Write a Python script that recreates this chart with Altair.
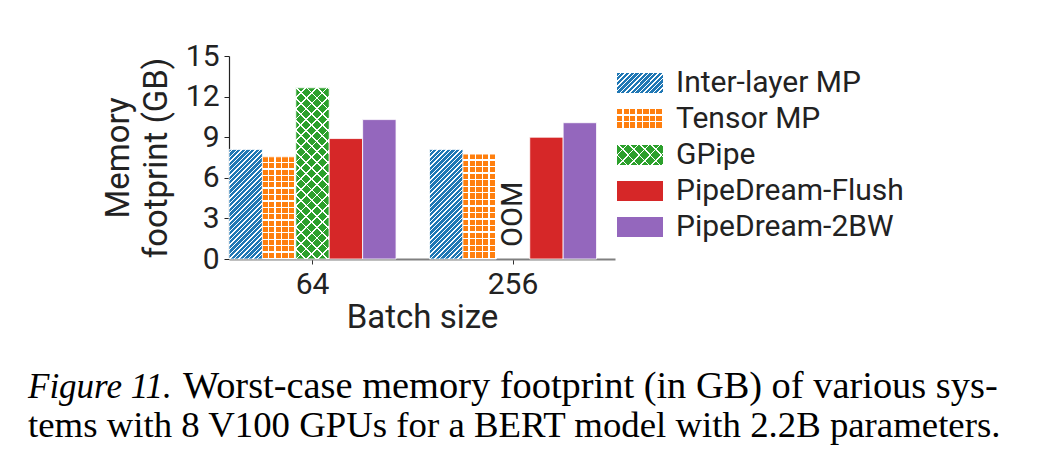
import math
import altair as alt
import pandas as pd

# ---------------- data ----------------
batch_sizes = ["64", "256"]
systems = ["Inter-layer MP", "Tensor MP", "GPipe", "PipeDream-Flush", "PipeDream-2BW"]
inter_layer_mp = [8.1, 8.1]
tensor_mp = [7.55, 7.75]
gpipe = [12.65, None]          # OOM at batch size 256
pipedream_flush = [8.9, 9.0]
pipedream_2bw = [10.3, 10.07]
series = [inter_layer_mp, tensor_mp, gpipe, pipedream_flush, pipedream_2bw]
colors = ["#1f77b4", "#ff7f0e", "#2ca02c", "#d62728", "#9467bd"]
y_ticks = [0, 3, 6, 9, 12, 15]
caption_italic = ["Figure 11."]
caption_line1 = ["Worst-case memory footprint (in GB) of various sys-"]
caption_line2 = ["tems with 8 V100 GPUs for a BERT model with 2.2B parameters."]

rows = []
for s, vals in zip(systems, series):
    for b, v in zip(batch_sizes, vals):
        rows.append({"batch": b, "system": s, "value": v})
df = pd.DataFrame(rows)
bars_df = df.dropna().reset_index(drop=True)
oom_df = df[df["value"].isna()].assign(value=0.0, label="OOM")
legend_df = pd.DataFrame({"system": systems})

# ---------------- layout ----------------
W, H = 386, 203
Y_MAX = 15
PAD_IN, PAD_OUT = 0.167, 0.046
step = W / (len(batch_sizes) - PAD_IN + 2 * PAD_OUT)
bar_w = step * (1 - PAD_IN) / len(systems)
LEG_W, LEG_H = 46, 20
WHITE = "#ffffff"
CLEAR = "rgba(255,255,255,0)"


def stripes(base, line, n, frac, x1, y1, x2, y2):
    stops = []
    for i in range(n):
        a, b, c = i / n, (i + 1 - frac) / n, (i + 1) / n
        stops += [alt.GradientStop(offset=a, color=base),
                  alt.GradientStop(offset=b, color=base),
                  alt.GradientStop(offset=b, color=line),
                  alt.GradientStop(offset=c, color=line)]
    return alt.LinearGradient(gradient="linear", stops=stops, x1=x1, y1=y1, x2=x2, y2=y2)


def diag(base, line, w, h, period, frac, kind="/"):
    r = w / h
    s = (r + 1) / (r * r + 1)
    n = max(1, round((w + h) / math.sqrt(2) / period))
    if kind == "/":
        return stripes(base, line, n, frac, 0, 0, s * r, s)
    return stripes(base, line, n, frac, 0, 1, s * r, 1 - s)


def fills(idx, w, h):
    """List of fills (base first, then overlays) imitating the hatches."""
    c = colors[idx]
    if idx == 0:   # '///'
        return [diag(c, WHITE, w, h, 3.3, 0.3, "/")]
    if idx == 1:   # '+' grid
        nx = max(1, round(w / 6.7))
        ny = max(1, round(h / 6.7))
        return [stripes(c, WHITE, nx, 0.2, 0, 0, 1, 0),
                stripes(CLEAR, WHITE, ny, 0.2, 0, 0, 0, 1)]
    if idx == 2:   # 'x' cross hatch
        return [diag(c, WHITE, w, h, 7.8, 0.17, "/"),
                diag(CLEAR, WHITE, w, h, 7.8, 0.17, "\\")]
    return [c]


FONT = "Roboto"
TXT = "#222222"

x_enc = alt.X("batch:N", title="Batch size",
              scale=alt.Scale(domain=batch_sizes, paddingInner=PAD_IN,
                              paddingOuter=PAD_OUT, align=0),
              axis=alt.Axis(labelAngle=0, domainColor="#808080", domainWidth=2,
                            tickColor="#333333", tickSize=5, labelPadding=5,
                            titlePadding=2, labelFontSize=30, titleFontSize=33))
xo_enc = alt.XOffset("system:N", scale=alt.Scale(domain=systems, paddingInner=0, paddingOuter=0))
y_enc = alt.Y("value:Q", title=["Memory", "footprint (GB)"],
              scale=alt.Scale(domain=[0, Y_MAX], nice=False),
              axis=alt.Axis(values=y_ticks, domainColor="#222222", domainWidth=1.2,
                            tickColor="#222222", tickSize=5, labelPadding=5,
                            titlePadding=12, titleLineHeight=38,
                            labelFontSize=30, titleFontSize=33))

main_layers = []
for i, s in enumerate(systems):
    vals = [v for v in series[i] if v is not None]
    h = max(vals) / Y_MAX * H
    for j, f in enumerate(fills(i, bar_w, h)):
        base = alt.Chart(bars_df).transform_filter(alt.datum.system == s)
        if j == 0:
            mk = base.mark_bar(fill=f, stroke=WHITE, strokeWidth=0.8)
        else:
            mk = base.mark_bar(fill=f, strokeWidth=0)
        main_layers.append(mk.encode(x=x_enc, xOffset=xo_enc, y=y_enc))

oom = alt.Chart(oom_df).mark_text(
    angle=270, align="left", baseline="middle", font=FONT, fontSize=29,
    color=TXT, dx=12
).encode(x=x_enc, xOffset=xo_enc, y=y_enc, text="label:N")
main_layers.append(oom)
main = alt.layer(*main_layers)

# ---------------- legend ----------------
leg_y = alt.Y("system:N", axis=None,
              scale=alt.Scale(domain=systems, range=[9, 189], paddingInner=0.44, paddingOuter=0.22))
leg_layers = []
for i, s in enumerate(systems):
    for j, f in enumerate(fills(i, LEG_W, LEG_H)):
        base = alt.Chart(legend_df).transform_filter(alt.datum.system == s)
        leg_layers.append(base.mark_rect(fill=f, strokeWidth=0).encode(
            x=alt.value(W + 2), x2=alt.value(W + 2 + LEG_W), y=leg_y))
leg_layers.append(alt.Chart(legend_df).mark_text(
    align="left", baseline="middle", font=FONT, fontSize=30, color=TXT
).encode(x=alt.value(W + 61), y=leg_y, text="system:N"))
legend = alt.layer(*leg_layers)

# ---------------- caption ----------------
cap = [
    alt.Chart(pd.DataFrame({"t": caption_italic})).mark_text(
        align="left", baseline="alphabetic", font="Liberation Serif", fontSize=35,
        fontStyle="italic", color="#000000"
    ).encode(x=alt.value(-201), y=alt.value(342), text="t:N"),
    alt.Chart(pd.DataFrame({"t": caption_line1})).mark_text(
        align="left", baseline="alphabetic", font="Liberation Serif", fontSize=38.4,
        color="#000000"
    ).encode(x=alt.value(-46), y=alt.value(342), text="t:N"),
    alt.Chart(pd.DataFrame({"t": caption_line2})).mark_text(
        align="left", baseline="alphabetic", font="Liberation Serif", fontSize=36.8,
        color="#000000"
    ).encode(x=alt.value(-201), y=alt.value(381), text="t:N"),
]

chart = alt.layer(main, legend, *cap).resolve_scale(y="independent").properties(
    width=W, height=H,
    autosize=alt.AutoSizeParams(type="none"),
    padding={"left": 221, "top": 48, "right": 419, "bottom": 190},
).configure_view(stroke=None).configure_axis(
    grid=False, labelFont=FONT, titleFont=FONT,
    titleFontWeight="normal", labelColor=TXT, titleColor=TXT,
)

chart.save("out.html", embed_options={"renderer": "svg", "actions": False})
